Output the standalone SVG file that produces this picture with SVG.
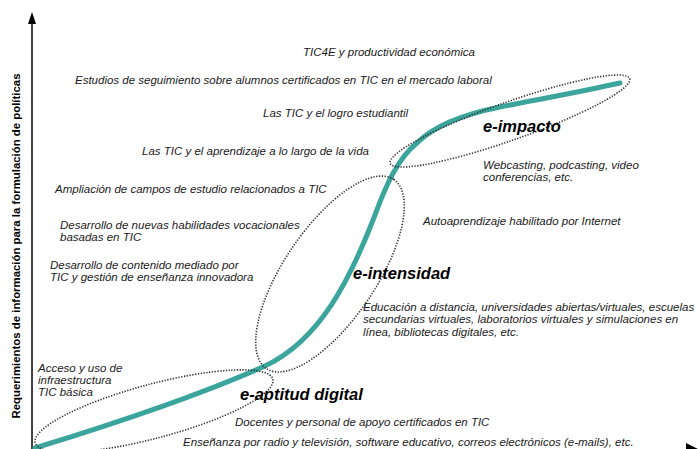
<svg xmlns="http://www.w3.org/2000/svg" width="700" height="449" viewBox="0 0 700 449">
<style>
.t{font-family:"Liberation Sans",Arial,sans-serif;font-style:italic;font-size:11.5px;fill:#1a1a1a}
.h{font-family:"Liberation Sans",Arial,sans-serif;font-style:italic;font-weight:bold;font-size:16.5px;fill:#000}
.ax{font-family:"Liberation Sans",Arial,sans-serif;font-weight:bold;font-size:11.4px;fill:#000}
.dot{fill:none;stroke:#333;stroke-width:1.6;stroke-dasharray:1.3 1.5}
</style>
<rect width="700" height="449" fill="#fff"/>
<g id="axes">
<line x1="32" y1="450" x2="32" y2="22" stroke="#000" stroke-width="1.5"/>
<polygon points="32,12 28,24 36,24" fill="#000"/>
<line x1="32" y1="450" x2="690" y2="450" stroke="#000" stroke-width="1.5"/>
<polygon points="686,443 700,450 686,457" fill="#000"/>
<text class="ax" transform="translate(20,246) rotate(-90)" text-anchor="middle">Requerimientos de información para la formulación de políticas</text>
</g>
<g id="connectors">
<path d="M35,448 C110,425 200,395 265,366 C320,340 350,280 375,215 C386,185 398,158 417,143 C434,126 465,114 500,107 C535,100 580,92 620,83" fill="none" stroke="#3ba59c" stroke-width="5" stroke-linecap="round"/>
</g>
<g id="e-aptitud">
<ellipse class="dot" cx="154" cy="411" rx="123" ry="27" transform="rotate(-15 154 411)"/>
<text class="h" x="240" y="400">e-aptitud digital</text>
</g>
<g id="e-intensidad">
<ellipse class="dot" cx="330" cy="274" rx="114" ry="46" transform="rotate(-56 330 274)"/>
<text class="h" x="353" y="279">e-intensidad</text>
</g>
<g id="e-impacto">
<ellipse class="dot" cx="510" cy="121" rx="127" ry="19" transform="rotate(-19.5 510 121)"/>
<text class="h" x="483" y="132">e-impacto</text>
</g>
<g id="labels">
<text class="t" x="303" y="56">TIC4E y productividad económica</text>
<text class="t" x="75" y="84">Estudios de seguimiento sobre alumnos certificados en TIC en el mercado laboral</text>
<text class="t" x="263" y="117">Las TIC y el logro estudiantil</text>
<text class="t" x="142" y="155">Las TIC y el aprendizaje a lo largo de la vida</text>
<text class="t" x="55" y="193">Ampliación de campos de estudio relacionados a TIC</text>
<text class="t" x="60" y="229">Desarrollo de nuevas habilidades vocacionales</text>
<text class="t" x="60" y="241">basadas en TIC</text>
<text class="t" x="50" y="269">Desarrollo de contenido mediado por</text>
<text class="t" x="50" y="281">TIC y gestión de enseñanza innovadora</text>
<text class="t" x="38" y="372">Acceso y uso de</text>
<text class="t" x="38" y="384">infraestructura</text>
<text class="t" x="38" y="396">TIC básica</text>
<text class="t" x="235" y="426">Docentes y personal de apoyo certificados en TIC</text>
<text class="t" x="183" y="446">Enseñanza por radio y televisión, software educativo, correos electrónicos (e-mails), etc.</text>
<text class="t" x="483" y="169">Webcasting, podcasting, video</text>
<text class="t" x="483" y="181">conferencias, etc.</text>
<text class="t" x="423" y="225">Autoaprendizaje habilitado por Internet</text>
<text class="t" x="363" y="311">Educación a distancia, universidades abiertas/virtuales, escuelas</text>
<text class="t" x="363" y="323">secundarias virtuales, laboratorios virtuales y simulaciones en</text>
<text class="t" x="363" y="336">línea, bibliotecas digitales, etc.</text>
</g>
</svg>
